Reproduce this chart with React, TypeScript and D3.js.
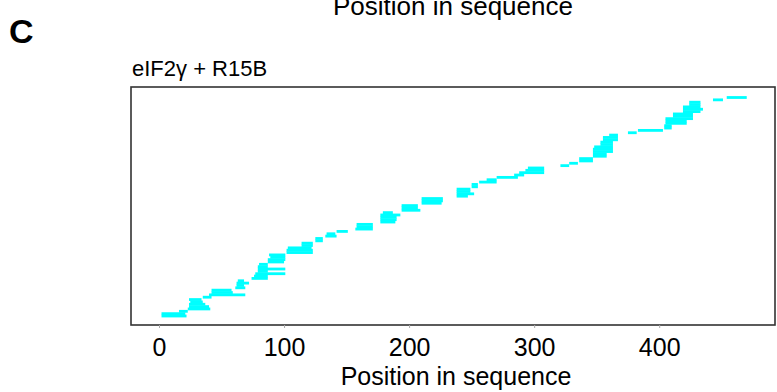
import { useEffect, useRef } from "react";
import * as d3 from "d3";

// peptides, bottom to top (residue start / end)
const starts = [
  2, 2, 16, 23, 24, 24, 25, 24, 35, 40, 42, 42, 61, 62, 62, 63, 74, 76, 77, 79,
  79, 79, 80, 87, 87, 89, 88, 102, 102, 103, 114, 114, 125, 125, 133, 134, 142,
  157, 158, 158, 177, 177, 177, 177, 179, 194, 194, 194, 210, 210, 210, 238, 238,
  238, 238, 250, 250, 256, 262, 270, 284, 288, 293, 295, 321, 328, 336, 336, 347,
  347, 347, 347, 348, 353, 353, 355, 355, 360, 375, 383, 404, 404, 405, 405, 405,
  411, 411, 419, 419, 419, 424, 424, 443, 454,
];
const ends = [
  22, 21, 23, 41, 40, 37, 35, 34, 42, 69, 59, 58, 69, 68, 72, 68, 87, 87, 101, 87,
  101, 87, 87, 100, 101, 101, 101, 123, 123, 122, 123, 123, 131, 131, 142, 141, 151,
  171, 171, 171, 189, 190, 190, 193, 187, 209, 207, 207, 226, 227, 227, 247, 252,
  249, 249, 255, 255, 270, 270, 287, 292, 308, 308, 308, 328, 335, 347, 347, 358,
  358, 363, 363, 363, 363, 363, 367, 367, 367, 382, 403, 410, 410, 422, 422, 427,
  427, 427, 433, 435, 433, 433, 433, 451, 470,
];
const xTicks = [0, 100, 200, 300, 400];

const width = 777;
const height = 392;

const App = () => {
  const ref = useRef<SVGSVGElement>(null);

  useEffect(() => {
    const left = 131;
    const right = 775;
    const top = 87;
    const bottom = 325;

    const x = d3.scaleLinear().domain([-22.4, 492.6]).range([left, right]);
    const y = d3
      .scaleLinear()
      .domain([0, starts.length - 1])
      .range([316, 97.5]);

    const svg = d3.select(ref.current);
    svg.selectAll("*").remove();

    const font = "Arial, 'Liberation Sans', sans-serif";

    // clipped title copy at the very top
    svg
      .append("text")
      .attr("x", (left + right) / 2)
      .attr("y", 15)
      .attr("text-anchor", "middle")
      .attr("font-family", font)
      .attr("font-size", 26)
      .text("Position in sequence");

    svg
      .append("text")
      .attr("x", 9)
      .attr("y", 43)
      .attr("font-family", font)
      .attr("font-weight", "bold")
      .attr("font-size", 34)
      .text("C");

    svg
      .append("text")
      .attr("x", 132)
      .attr("y", 76)
      .attr("font-family", font)
      .attr("font-size", 22)
      .text("eIF2γ + R15B");

    svg
      .append("g")
      .selectAll("rect")
      .data(starts.map((s, i) => ({ s, e: ends[i], i })))
      .join("rect")
      .attr("x", (d) => x(d.s))
      .attr("width", (d) => x(d.e) - x(d.s))
      .attr("y", (d) => y(d.i) - 1.4)
      .attr("height", 2.8)
      .attr("fill", "#00ffff");

    svg
      .append("rect")
      .attr("x", left)
      .attr("y", top)
      .attr("width", right - left)
      .attr("height", bottom - top)
      .attr("fill", "none")
      .attr("stroke", "#333")
      .attr("stroke-width", 1.6);

    svg
      .append("g")
      .attr("transform", `translate(0,${bottom})`)
      .call(
        d3
          .axisBottom(x)
          .tickValues(xTicks)
          .tickSize(3)
          .tickPadding(10)
          .tickSizeOuter(0)
      )
      .call((g) => g.select(".domain").remove())
      .call((g) => g.selectAll(".tick line").attr("stroke", "#aaa"))
      .call((g) =>
        g
          .selectAll(".tick text")
          .attr("font-family", font)
          .attr("font-size", 25)
          .attr("fill", "#000")
      );

    svg
      .append("text")
      .attr("x", (left + right) / 2 + 3)
      .attr("y", 385)
      .attr("text-anchor", "middle")
      .attr("font-family", font)
      .attr("font-size", 25)
      .text("Position in sequence");
  }, []);

  return (
    <svg
      ref={ref}
      width={width}
      height={height}
      style={{ position: "absolute", left: 0, top: 0, background: "#fff" }}
    />
  );
};

export default App;
